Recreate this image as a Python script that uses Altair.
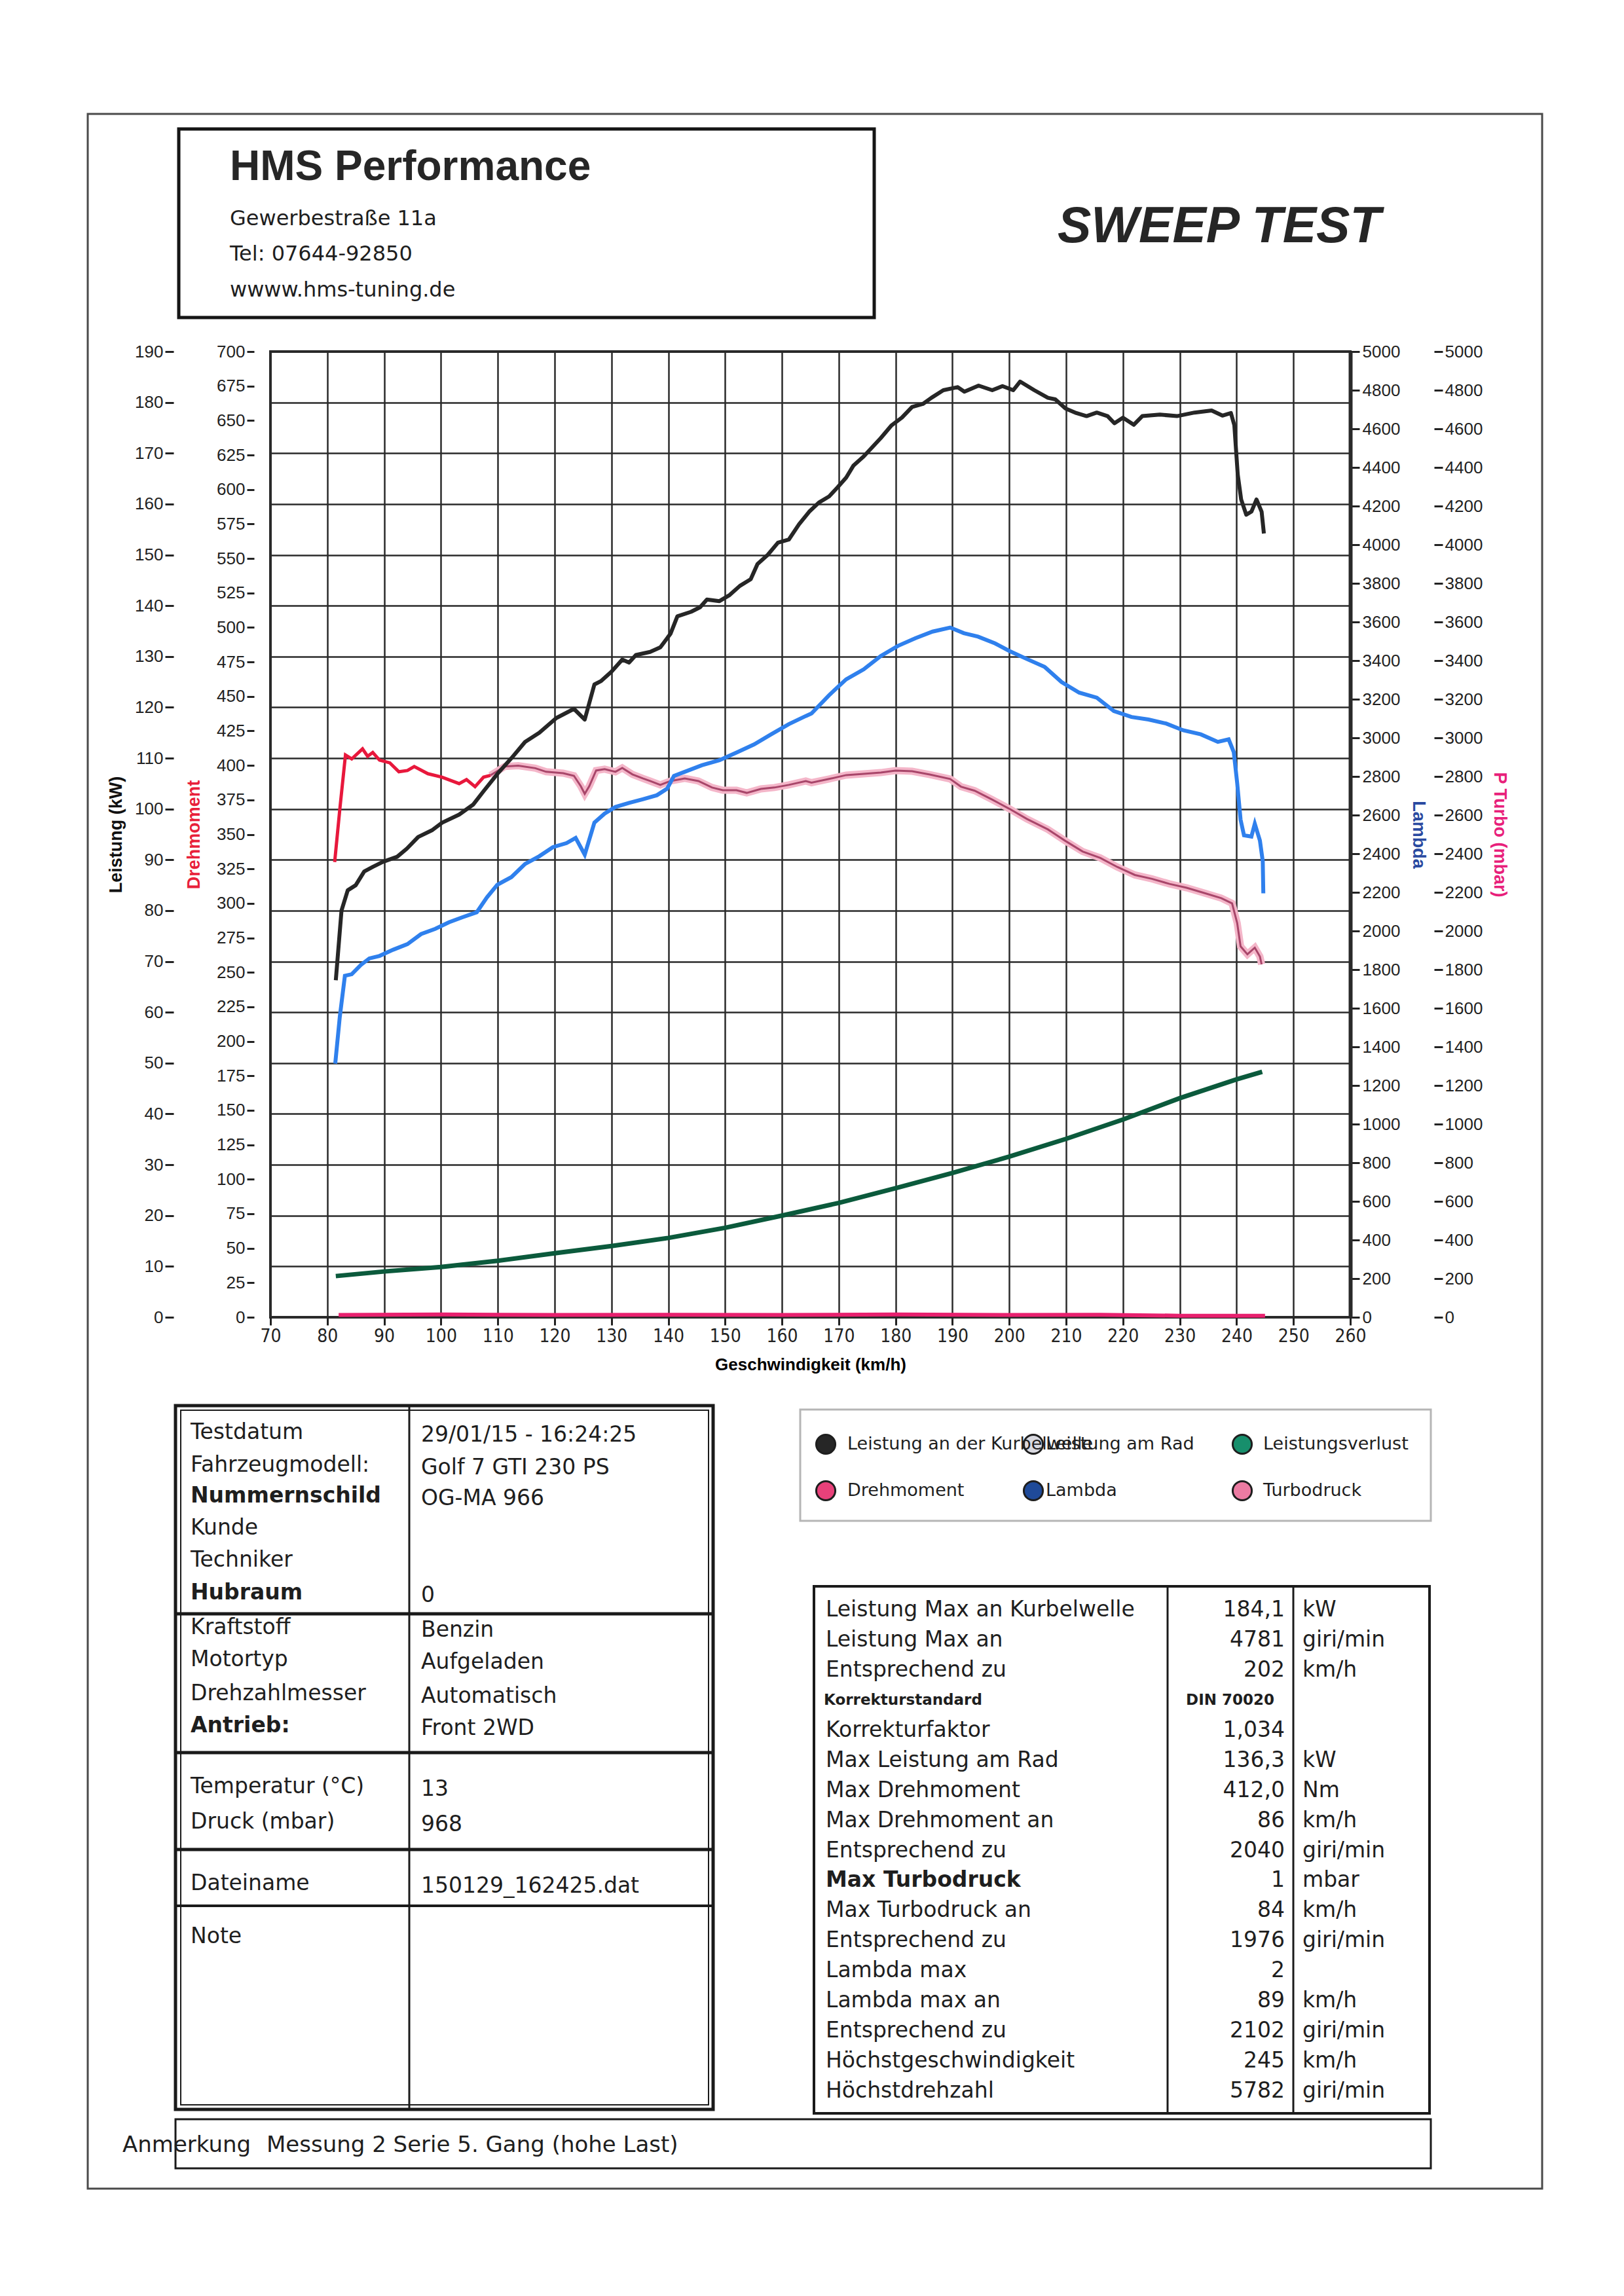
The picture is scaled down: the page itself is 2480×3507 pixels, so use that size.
import altair as alt
import pandas as pd

# ---------------- curve data ----------------
spd_crank = [81.5, 82.5, 83.6, 85.0, 86.5, 88.0, 89.8, 92.3, 94.0, 96.0,
             98.4, 100.2, 103.2, 105.7, 107.5, 110.0, 112.4, 114.8, 117.3, 120.3,
             123.4, 125.3, 127.0, 128.2, 130.0, 131.9, 133.1, 134.3, 136.8, 138.6,
             140.4, 141.6, 144.0, 145.6, 146.8, 149.0, 150.8, 152.6, 154.5, 155.7,
             157.5, 159.3, 161.2, 163.0, 164.8, 166.5, 168.3, 169.8, 171.3, 172.6,
             174.4, 175.9, 177.4, 179.3, 181.1, 182.9, 184.8, 186.3, 188.4, 190.9,
             192.1, 194.6, 197.0, 198.8, 200.7, 201.9, 204.4, 206.8, 208.1, 209.9,
             211.8, 213.6, 215.4, 217.3, 218.5, 220.0, 221.9, 223.4, 226.5, 229.5,
             232.6, 235.6, 237.5, 239.0, 239.6, 240.2, 240.8, 241.7, 242.6, 243.5,
             244.4, 244.8]
kw_crank = [66.3, 80.0, 84.0, 85.0, 87.7, 88.6, 89.6, 90.6, 92.2, 94.5,
            95.8, 97.3, 98.9, 100.9, 103.5, 107.0, 110.0, 113.2, 115.0, 117.9,
            119.7, 117.6, 124.5, 125.2, 127.0, 129.4, 128.8, 130.3, 130.9, 131.8,
            134.5, 137.9, 138.8, 139.7, 141.2, 140.9, 142.1, 143.9, 145.2, 148.2,
            150.0, 152.4, 153.0, 156.0, 158.5, 160.3, 161.5, 163.3, 165.2, 167.6,
            169.4, 171.2, 173.0, 175.5, 177.0, 179.1, 179.7, 180.9, 182.4, 183.0,
            182.1, 183.3, 182.4, 183.2, 182.4, 184.1, 182.4, 180.9, 180.6, 178.8,
            177.9, 177.3, 178.0, 177.3, 175.9, 177.0, 175.6, 177.3, 177.6, 177.3,
            178.0, 178.4, 177.4, 177.9, 175.5, 165.8, 160.9, 157.9, 158.5, 160.9,
            158.5, 154.2]

spd_torque = [81.3, 82.2, 83.2, 84.3, 86.2, 87.1, 88.0, 89.2, 91.0, 92.6,
              94.1, 95.3, 97.7, 100.2, 103.2, 104.5, 106.0, 107.5, 108.7, 111.2,
              113.6, 116.6, 118.5, 121.5, 123.4, 124.6, 125.3, 126.1, 127.3, 128.8,
              130.7, 131.9, 133.7, 135.5, 136.8, 138.6, 140.4, 142.9, 145.3, 147.7,
              149.6, 152.0, 153.8, 156.3, 158.7, 161.2, 164.2, 165.2, 168.3, 171.3,
              174.4, 177.4, 180.0, 182.9, 186.0, 189.6, 191.5, 193.9, 197.0, 200.0,
              203.1, 206.8, 209.9, 212.9, 216.0, 219.0, 222.1, 225.1, 228.2, 231.2,
              234.3, 237.3, 239.2, 240.1, 240.7, 241.9, 243.2, 244.1, 244.4]
nm_torque = [330.0, 368.0, 407.5, 404.7, 412.0, 406.6, 409.4, 403.8, 401.9, 395.4,
             396.3, 399.2, 394.0, 391.5, 386.8, 389.7, 384.6, 391.5, 392.8, 399.2,
             399.8, 398.0, 395.4, 394.4, 392.5, 385.0, 379.4, 385.0, 396.3, 397.3,
             395.4, 398.2, 393.5, 390.6, 388.7, 385.9, 388.7, 390.6, 388.7, 384.0,
             382.0, 382.0, 380.1, 383.0, 384.0, 385.9, 388.7, 387.5, 390.2, 393.0,
             393.9, 394.8, 396.3, 395.8, 393.4, 390.2, 384.6, 381.7, 375.2, 368.6,
             361.2, 353.6, 345.2, 337.6, 333.0, 326.4, 320.6, 317.8, 314.1, 311.3,
             307.5, 303.8, 300.0, 285.8, 268.8, 263.1, 267.9, 261.5, 255.8]

spd_lambda = [81.4, 82.2, 83.1, 84.3, 85.9, 87.4, 89.2, 91.6, 94.1, 96.5,
              99.0, 101.4, 103.8, 106.3, 108.1, 109.9, 112.4, 114.8, 117.3, 119.7,
              122.1, 123.7, 125.3, 127.0, 128.8, 130.7, 133.1, 135.5, 138.0, 139.8,
              141.0, 142.9, 145.9, 149.0, 152.0, 155.1, 158.1, 161.2, 164.2, 165.2,
              168.3, 171.3, 174.4, 177.4, 180.4, 183.5, 186.5, 189.6, 192.0, 194.5,
              197.5, 200.0, 203.1, 206.2, 209.2, 212.3, 215.4, 218.4, 221.5, 224.5,
              227.6, 230.6, 233.7, 236.7, 238.6, 239.5, 240.1, 240.7, 241.3, 242.6,
              243.2, 244.1, 244.6, 244.7]
val_lambda = [1313, 1555, 1768, 1776, 1824, 1858, 1871, 1903, 1932, 1984,
              2011, 2045, 2071, 2097, 2174, 2239, 2279, 2347, 2387, 2434,
              2455, 2482, 2395, 2561, 2608, 2642, 2663, 2682, 2703, 2737,
              2803, 2824, 2858, 2884, 2924, 2966, 3018, 3071, 3113, 3126,
              3221, 3303, 3355, 3424, 3476, 3516, 3550, 3571, 3542, 3524,
              3489, 3450, 3408, 3368, 3289, 3234, 3208, 3139, 3108, 3095,
              3074, 3039, 3018, 2979, 2992, 2926, 2766, 2576, 2495, 2489,
              2555, 2468, 2361, 2195]

spd_loss = [81.5, 90, 100, 110, 120, 130, 140, 150, 160, 170, 180, 190, 200, 210, 220, 230, 240, 244.5]
kw_loss = [8.1, 9.0, 9.9, 11.1, 12.6, 14.0, 15.6, 17.6, 20.0, 22.5, 25.4, 28.4, 31.6, 35.1, 38.9, 43.1, 46.8, 48.3]

spd_turbo = [82, 100, 120, 140, 160, 180, 200, 216, 230, 245]
mbar_turbo = [12, 14, 12, 13, 12, 14, 12, 13, 8, 8]

# axis tick values
kw_ticks = list(range(0, 191, 10))
nm_ticks = list(range(0, 701, 25))
rpm_ticks = list(range(0, 5001, 200))
spd_ticks = list(range(70, 261, 10))

# ---------------- texts ----------------
header_lines = ["Gewerbestraße 11a", "Tel: 07644-92850", "wwww.hms-tuning.de"]
left_labels = ["Testdatum", "Fahrzeugmodell:", "Nummernschild", "Kunde", "Techniker", "Hubraum",
               "Kraftstoff", "Motortyp", "Drehzahlmesser", "Antrieb:", "Temperatur (°C)",
               "Druck (mbar)", "Dateiname", "Note"]
left_values = ["29/01/15 - 16:24:25", "Golf 7 GTI 230 PS", "OG-MA 966", "", "", "0",
               "Benzin", "Aufgeladen", "Automatisch", "Front 2WD", "13", "968",
               "150129_162425.dat", ""]
left_bold = [False, False, True, False, False, True, False, False, False, True, False, False, False, False]

right_labels = ["Leistung Max an Kurbelwelle", "Leistung Max an", "Entsprechend zu", "Korrekturstandard",
                "Korrekturfaktor", "Max Leistung am Rad", "Max Drehmoment", "Max Drehmoment an",
                "Entsprechend zu", "Max Turbodruck", "Max Turbodruck an", "Entsprechend zu",
                "Lambda max", "Lambda max an", "Entsprechend zu", "Höchstgeschwindigkeit", "Höchstdrehzahl"]
right_values = ["184,1", "4781", "202", "DIN 70020", "1,034", "136,3", "412,0", "86", "2040", "1",
                "84", "1976", "2", "89", "2102", "245", "5782"]
right_units = ["kW", "giri/min", "km/h", "", "", "kW", "Nm", "km/h", "giri/min", "mbar",
               "km/h", "giri/min", "", "km/h", "giri/min", "km/h", "giri/min"]
right_style = ["n", "n", "n", "s", "n", "n", "n", "n", "n", "b", "n", "n", "n", "n", "n", "n", "n"]

legend_names = ["Leistung an der Kurbelwelle", "Leistung am Rad", "Leistungsverlust",
                "Drehmoment", "Lambda", "Turbodruck"]
legend_fill = ["#262626", "#d9d9e0", "#178f6c", "#e8417a", "#1f4a99", "#ec7ba2"]

note_label = "Anmerkung"
note_text = "Messung 2 Serie 5. Gang (hohe Last)"

# ---------------- layout (page pixels) ----------------
PX0, PY0, PW, PH = 413, 537, 1649, 1475
SANS = "Liberation Sans, Arial, sans-serif"
NARROW = "Liberation Sans Narrow, Arial Narrow, DejaVu Sans Condensed, Liberation Sans, sans-serif"
TAB = "DejaVu Sans, Verdana, sans-serif"
INK = "#1e1e1e"


def page_x():
    return alt.Scale(domain=[0, 2480], range=[-PX0, 2480 - PX0], zero=False, nice=False)


def page_y():
    return alt.Scale(domain=[0, 3507], range=[-PY0, 3507 - PY0], zero=False, nice=False)


def ptext(rows, size, font=TAB, weight="normal", align="left", baseline="middle", color=INK, italic=False):
    df = pd.DataFrame(rows, columns=["txt", "px", "py"])
    return alt.Chart(df).mark_text(
        align=align, baseline=baseline, fontSize=size, font=font, fontWeight=weight,
        fontStyle="italic" if italic else "normal", color=color
    ).encode(
        x=alt.X("px:Q", scale=page_x(), axis=None),
        y=alt.Y("py:Q", scale=page_y(), axis=None),
        text="txt:N",
    )


layers = []

# invisible page-sized rect that pins the page origin
bounds = pd.DataFrame({"x1": [8], "x2": [2472], "y1": [8], "y2": [3499]})
layers.append(alt.Chart(bounds).mark_rect(opacity=0).encode(
    x=alt.X("x1:Q", scale=page_x(), axis=None), x2="x2:Q",
    y=alt.Y("y1:Q", scale=page_y(), axis=None), y2="y2:Q"))

# boxes
boxes = pd.DataFrame([
    (134, 2355, 174, 3343, 3, "#4a4a4a"),    # page frame
    (273, 1335, 197, 485, 5, "#151515"),     # header box
    (268, 1089, 2147, 3222, 5, "#1a1a1a"),   # info table outer
    (276, 1082, 2154, 3215, 2, "#1a1a1a"),   # info table inner
    (1243, 2183, 2423, 3228, 4, "#1a1a1a"),  # results table
    (1222, 2185, 2153, 2323, 3, "#b5b5b5"),  # legend box
    (268, 2185, 3237, 3312, 3, "#1a1a1a"),   # note box
], columns=["x1", "x2", "y1", "y2", "sw", "col"])
layers.append(alt.Chart(boxes).mark_rect(filled=False).encode(
    x=alt.X("x1:Q", scale=page_x(), axis=None), x2="x2:Q",
    y=alt.Y("y1:Q", scale=page_y(), axis=None), y2="y2:Q",
    stroke=alt.Stroke("col:N", scale=None),
    strokeWidth=alt.StrokeWidth("sw:Q", scale=None)))

rules = pd.DataFrame([
    (625, 625, 2147, 3222, 3),
    (268, 1089, 2465, 2465, 5),
    (268, 1089, 2677, 2677, 5),
    (268, 1089, 2825, 2825, 5),
    (268, 1089, 2911, 2911, 4),
    (1783, 1783, 2423, 3228, 3),
    (1975, 1975, 2423, 3228, 3),
], columns=["x1", "x2", "y1", "y2", "sw"])
layers.append(alt.Chart(rules).mark_rule(color="#1a1a1a").encode(
    x=alt.X("x1:Q", scale=page_x(), axis=None), x2="x2:Q",
    y=alt.Y("y1:Q", scale=page_y(), axis=None), y2="y2:Q",
    strokeWidth=alt.StrokeWidth("sw:Q", scale=None)))

# header texts
layers.append(ptext([("HMS Performance", 351, 275)], 64, font=SANS, weight="bold", baseline="alphabetic", color="#262626"))
layers.append(ptext([(t, 351, y) for t, y in zip(header_lines, [344, 398, 453])], 32, baseline="alphabetic"))
layers.append(ptext([("SWEEP TEST", 1615, 370)], 77, font=SANS, weight="bold", italic=True, baseline="alphabetic", color="#262626"))

# ---------------- curves ----------------
def xs(axis=None):
    return alt.X("spd:Q", scale=alt.Scale(domain=[70, 260], nice=False, zero=False), axis=axis, title=None)


def ys(domain, axis=None):
    return alt.Y("v:Q", scale=alt.Scale(domain=domain, nice=False, zero=True), axis=axis, title=None)


x_axis = alt.Axis(values=spd_ticks, grid=True, gridColor="#2a2a2a", gridWidth=2.5, tickSize=12,
                  domain=False, labelFont=NARROW, labelFontSize=28, labelPadding=3, format="d",
                  title="Geschwindigkeit (km/h)", titleFontSize=26, titlePadding=16)
kw_axis = alt.Axis(orient="left", offset=148, values=kw_ticks, tickSize=13, domain=False, format="d",
                   grid=True, gridColor="#2a2a2a", gridWidth=2.5,
                   title="Leistung (kW)", titleColor="#111111", titlePadding=14)
nm_axis = alt.Axis(orient="left", offset=25, values=nm_ticks, tickSize=11, domain=False, grid=False,
                   format="d", title="Drehmoment", titleColor="#e8203a", titlePadding=20)
lam_axis = alt.Axis(orient="right", offset=0, values=rpm_ticks, tickSize=14, domain=True, format="d",
                    domainWidth=6, domainColor="#2a2a2a", grid=False, labelPadding=4,
                    title="Lambda", titleColor="#2a4aa0", titlePadding=14)
tur_axis = alt.Axis(orient="right", offset=128, values=rpm_ticks, tickSize=13, domain=False, format="d",
                    grid=False, title="P Turbo (mbar)", titleColor="#e8207a", titlePadding=12)

df_crank = pd.DataFrame({"spd": spd_crank, "v": kw_crank})
df_torque = pd.DataFrame({"spd": spd_torque, "v": nm_torque})
df_torque_red = df_torque[df_torque["spd"] <= 108.7]
df_torque_rest = df_torque[df_torque["spd"] >= 108.7]
df_lambda = pd.DataFrame({"spd": spd_lambda, "v": val_lambda})
df_loss = pd.DataFrame({"spd": spd_loss, "v": kw_loss})
df_turbo = pd.DataFrame({"spd": spd_turbo, "v": mbar_turbo})

layers.append(alt.Chart(df_loss).mark_line(color="#0b5a3c", strokeWidth=7).encode(
    x=xs(x_axis), y=ys([0, 190], kw_axis)))
layers.append(alt.Chart(df_turbo).mark_line(color="#e8206e", strokeWidth=6).encode(
    x=xs(), y=ys([0, 5000], tur_axis)))
layers.append(alt.Chart(df_torque_rest).mark_line(color="#f4b6c9", strokeWidth=11).encode(
    x=xs(), y=ys([0, 700])))
layers.append(alt.Chart(df_torque_rest).mark_line(color="#a8466a", strokeWidth=3).encode(
    x=xs(), y=ys([0, 700])))
layers.append(alt.Chart(df_torque_red).mark_line(color="#e8183c", strokeWidth=5).encode(
    x=xs(), y=ys([0, 700], nm_axis)))
layers.append(alt.Chart(df_lambda).mark_line(color="#2f80ed", strokeWidth=6).encode(
    x=xs(), y=ys([0, 5000], lam_axis)))
layers.append(alt.Chart(df_crank).mark_line(color="#262626", strokeWidth=6, strokeJoin="round").encode(
    x=xs(), y=ys([0, 190])))

# ---------------- legend ----------------
leg_x = [1261, 1578, 1897, 1261, 1578, 1897]
leg_y = [2206, 2206, 2206, 2277, 2277, 2277]
leg_tx = [1294, 1597, 1929, 1294, 1597, 1929]
df_leg = pd.DataFrame({"px": leg_x, "py": leg_y, "fill": legend_fill})
layers.append(alt.Chart(df_leg).mark_point(shape="circle", filled=True, size=850, stroke="#1e1e1e",
                                           strokeWidth=3, opacity=1).encode(
    x=alt.X("px:Q", scale=page_x(), axis=None),
    y=alt.Y("py:Q", scale=page_y(), axis=None),
    fill=alt.Fill("fill:N", scale=None)))
layers.append(ptext([(n, x, y) for n, x, y in zip(legend_names, leg_tx, leg_y)], 27))

# ---------------- info table ----------------
left_y = [2188, 2238, 2285, 2334, 2383, 2433, 2486, 2535, 2587, 2636, 2729, 2783, 2877, 2958]
layers.append(ptext([(t, 291, y) for t, y, b in zip(left_labels, left_y, left_bold) if not b], 33))
layers.append(ptext([(t, 291, y) for t, y, b in zip(left_labels, left_y, left_bold) if b], 33, weight="bold"))
layers.append(ptext([(t, 643, y + 4) for t, y in zip(left_values, left_y) if t], 33))

# ---------------- results table ----------------
rows = pd.DataFrame({"i": list(range(len(right_labels))), "lab": right_labels, "val": right_values,
                     "unit": right_units, "st": right_style})
row_scale = alt.Scale(domain=[0, 16], range=[2459 - PY0, 3194 - PY0], zero=False, nice=False)


def rtext(df, field, xpos, size, weight="normal", align="left"):
    d = df.assign(px=xpos)
    return alt.Chart(d).mark_text(align=align, baseline="middle", fontSize=size, font=TAB,
                                  fontWeight=weight, color=INK).encode(
        x=alt.X("px:Q", scale=page_x(), axis=None),
        y=alt.Y("i:Q", scale=row_scale, axis=None),
        text=f"{field}:N")


layers.append(rtext(rows[rows.st == "n"], "lab", 1261, 33))
layers.append(rtext(rows[rows.st == "b"], "lab", 1261, 33, weight="bold"))
layers.append(rtext(rows[rows.st == "s"], "lab", 1258, 23, weight="bold"))
layers.append(rtext(rows[rows.st != "s"], "val", 1962, 33, align="right"))
layers.append(rtext(rows[rows.st == "s"], "val", 1946, 23, weight="bold", align="right"))
layers.append(rtext(rows[rows.unit != ""], "unit", 1989, 33))

# ---------------- note ----------------
layers.append(ptext([(note_label, 187, 3277), (note_text, 407, 3277)], 34))

chart = alt.layer(*layers).resolve_scale(
    x="independent", y="independent"
).properties(
    width=PW, height=PH, padding=0
).configure_view(
    stroke="#2a2a2a", strokeWidth=4
).configure_axis(
    labelFont=SANS, labelFontSize=26, labelColor="#222222", tickColor="#222222", tickWidth=3,
    titleFont=SANS, titleFontSize=27, titleFontWeight="bold", labelOverlap=False, labelFlush=False,
    labelPadding=3
)

chart.save("out.html", embed_options={"renderer": "svg", "actions": False})
